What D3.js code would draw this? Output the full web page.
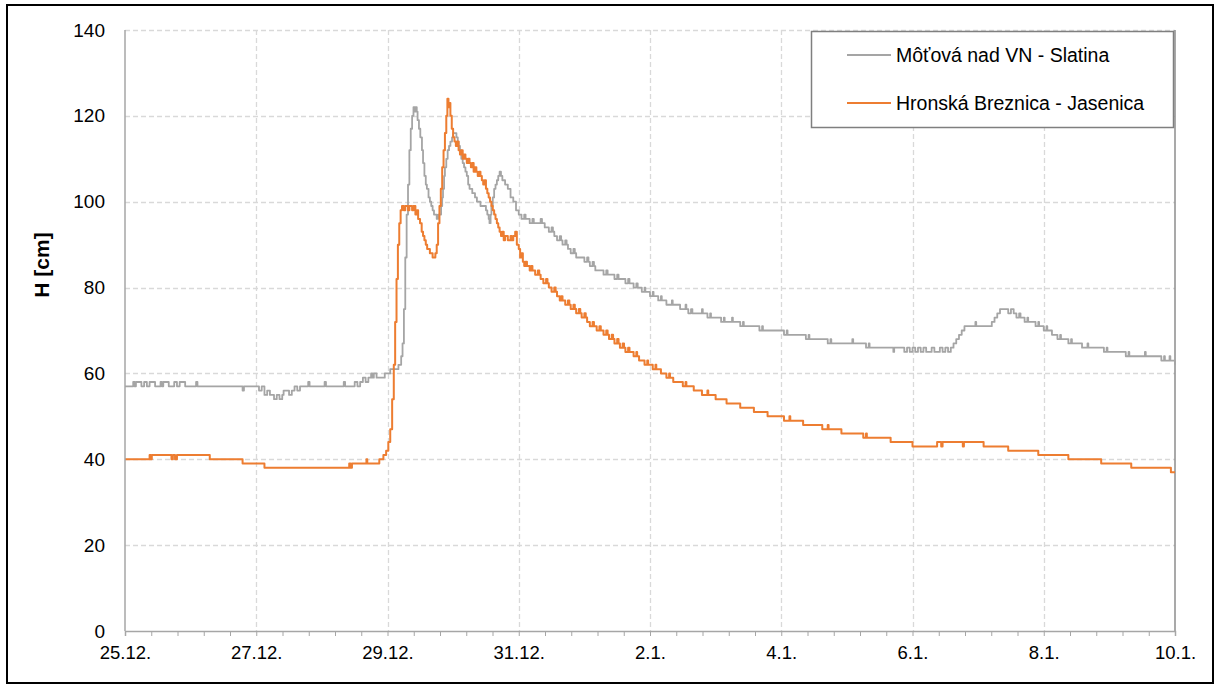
<!DOCTYPE html>
<html><head><meta charset="utf-8">
<script src="https://cdn.jsdelivr.net/npm/d3@7"></script>
<style>html,body{margin:0;padding:0;background:#fff;}svg{display:block;font-family:"Liberation Sans",Arial,sans-serif;}</style>
</head><body>
<svg id="chart" width="1219" height="689"></svg>
<script>
// Hours since 25.12. 00:00
const xTickLabels = ["25.12.","27.12.","29.12.","31.12.","2.1.","4.1.","6.1.","8.1.","10.1."];
const yTicks = [0,20,40,60,80,100,120,140];
const seriesNames = ["Môťová nad VN - Slatina","Hronská Breznica - Jasenica"];
const seriesColors = ["#a5a5a5","#ed7d31"];

const grayData = [[0,57],[3,58],[3.5,57],[4,58],[6,57],[7,58],[8,57],[9,58],[10,58],[11,57],[13,58],[13.5,57],[14,58],[16,57],[18,58],[19,57],[20,58],[22,57],[26,58],[26.5,57],[31,57],[36,57],[41,57],[43,56],[43.5,57],[47,57],[49,56],[50,57],[51,55],[52,56],[53,55],[54.5,54],[55.5,55],[56.5,54],[57.5,55],[58,56],[60,55],[61,56],[62,57],[63,56],[64,57],[66,57],[67,58],[67.5,57],[72,57],[73,58],[73.5,57],[78,57],[80,58],[80.5,57],[84,58],[85,57],[86,58],[87,59],[88,58],[89,59],[90,60],[90.5,59],[91,60],[92,59],[94,59],[95,60],[96,60],[97,61],[99,61],[100,62],[101,64],[101.5,67],[102,75],[102.5,87],[103,97],[103.5,104],[104,112],[104.5,117],[105,120],[105.5,122],[106,121],[106.3,122],[106.7,121],[107,119],[107.5,117],[108,115],[108.6,112],[109,109],[109.5,106],[110,104],[110.4,103],[111,101],[111.5,100],[112,99],[112.5,98],[113,97],[114,96],[114.5,97],[115.2,97],[115.6,99],[116,101],[116.3,103],[116.7,106],[117,108],[117.5,110],[118,112],[118.5,113],[119,114],[119.6,115],[120,116],[120.7,116],[121.2,115],[121.7,114],[122,113],[122.5,112],[123,110],[123.5,109],[124,108],[124.5,107],[125,106],[125.5,104],[126,103],[127,102],[128,101],[128.7,100],[129.5,100],[130,99],[131,99],[132,98],[132.5,97],[133,96],[133.3,95],[133.7,97],[134,99],[134.5,101],[135,103],[135.5,104],[136,105],[136.5,106],[137,107],[137.5,106],[138,105],[139,104],[140,103],[141,101],[142,100],[143,98],[144,97],[145,96],[146,97],[146.5,96],[148,95],[149,96],[149.5,95],[151,95],[152,96],[152.5,95],[153.5,94],[155,93],[156,94],[156.5,93],[157,92],[158,91],[159,92],[159.5,91],[160,90],[161,91],[161.5,90],[162,89],[163,88],[164,89],[164.5,88],[165,87],[167,87],[168,86],[169,87],[169.5,86],[170,85],[171,86],[171.5,85],[172,84],[174,84],[175,83],[176,84],[176.5,83],[178,83],[179,82],[180,83],[180.5,82],[182,82],[183,81],[184,82],[184.5,81],[186,80],[187,81],[187.5,80],[189,79],[190,80],[190.3,79],[192,78],[193,79],[193.3,78],[195,77],[196,78],[196.3,77],[198,76],[200,77],[200.3,76],[203,75],[205,76],[205.3,75],[206,74],[207,75],[207.5,74],[210,74],[211,75],[211.3,74],[213,73],[214,74],[214.3,73],[216,73],[218,72],[219,73],[219.3,72],[221,72],[222,73],[222.3,72],[225,71],[226,72],[226.3,71],[231,71],[232,70],[233,71],[233.3,70],[240,70],[241,69],[242,70],[242.3,69],[248,69],[249,68],[250,69],[250.3,68],[256,68],[257,67],[258,68],[258.3,67],[265,67],[266,68],[266.3,67],[270,67],[271,66],[272,67],[272.3,66],[280,66],[281,65],[281.3,66],[284,66],[285,65],[286,66],[287,65],[288,66],[289,65],[290,66],[291,65],[292,66],[293,65],[295,66],[296,65],[298,66],[299,65],[300,66],[301,65],[302,66],[303,67],[304,68],[305,69],[306,70],[307,71],[310,71],[311,72],[311.3,71],[316,71],[317,72],[318,73],[319,74],[320,75],[322,75],[323,74],[324,75],[325,74],[326,73],[327,74],[327.5,73],[329,72],[330,73],[330.3,72],[333,71],[334,72],[334.3,71],[336,70],[337,71],[337.3,70],[339,69],[341,68],[342,69],[342.3,68],[345,67],[346,68],[346.3,67],[350,66],[352,67],[352.3,66],[357,66],[358,65],[359,66],[359.3,65],[365,65],[366,64],[367,65],[367.3,64],[372,64],[373,65],[373.3,64],[378,64],[379,63],[380,64],[380.3,63],[382,64],[382.3,63],[384,62]];

const orangeData = [[0,40],[9,41],[9.4,40],[9.8,41],[17,40],[17.5,41],[18.3,40],[19,41],[31,40],[43,39],[51,38],[82,39],[82.5,38],[83,39],[88,39],[88.3,40],[88.6,39],[93,40],[94.5,41],[95.5,42],[96.3,44],[97,47],[97.7,54],[98.3,62],[98.8,72],[99.3,82],[99.8,90],[100.3,95],[100.8,98],[101.3,99],[102,98],[102.5,99],[103.5,98],[104,99],[105,98],[105.5,99],[106.2,97],[106.8,98],[107.2,96],[107.9,95],[108.5,93],[109,92],[109.5,91],[110,90],[110.5,89],[111.5,88],[112.5,87],[113.5,88],[114,90],[114.5,95],[115,99],[115.5,103],[116,108],[116.5,112],[117,116],[117.5,120],[117.9,124],[118.3,122],[118.6,123],[119,120],[119.5,117],[120,115],[120.5,114],[121,113],[121.5,114],[122,112],[122.5,111],[123,112],[123.5,110],[124,111],[124.5,110],[125,109],[125.5,110],[126,109],[126.5,108],[127,109],[127.5,107],[128,108],[128.5,107],[129,106],[129.5,107],[130,106],[130.5,105],[131,104],[131.5,105],[132,103],[132.5,102],[133,101],[133.5,100],[134,99],[134.5,98],[135,97],[135.5,96],[136,95],[136.5,94],[137,93],[137.5,92],[138,93],[138.5,91],[139,92],[140,91],[141,92],[141.5,91],[142,92],[142.7,93],[143.3,90],[144,89],[144.5,87],[145,88],[145.5,86],[146,85],[146.5,86],[147,85],[148,84],[148.5,85],[149,84],[150,83],[151,84],[151.5,83],[152,82],[153,81],[154,82],[154.5,81],[155,80],[156,79],[157,80],[157.5,79],[158,78],[159,77],[159.5,78],[160,77],[161,76],[162,77],[162.5,76],[163,75],[164,76],[164.5,75],[165,74],[166,75],[166.5,74],[167,73],[168,74],[168.5,73],[169,72],[170,71],[171,72],[171.5,71],[172.5,70],[173.5,71],[174,70],[175,69],[176,70],[176.5,69],[177,68],[178,69],[178.5,68],[179,67],[180,68],[180.5,67],[181,66],[182,67],[182.5,66],[183,65],[184,66],[184.5,65],[186,64],[187,65],[187.3,64],[188,63],[190,62],[191,63],[191.3,62],[193,61],[194,62],[194.3,61],[196,60],[198,59],[199,60],[199.3,59],[200.5,58],[204,57],[205,58],[205.3,57],[208,56],[211,55],[213,56],[213.3,55],[216,54],[220,53],[225,52],[230,51],[235,50],[241,49],[243,50],[243.3,49],[248,48],[255,47],[257,48],[257.3,47],[262,46],[270,45],[271,46],[271.3,45],[280,44],[288,43],[297,44],[298.5,43],[299,44],[306,44],[306.4,43],[306.8,44],[314,43],[323,42],[334,41],[345,40],[357,39],[368,38],[382.5,37],[384,37]];

const svg = d3.select("#chart");
const m = {left:125, right:1175, top:30, bottom:631};
const FONT = "Liberation Sans, Arial, sans-serif";

// outer border
svg.append("rect").attr("x",7).attr("y",5).attr("width",1206).attr("height",678)
  .attr("fill","#fff").attr("stroke","#000").attr("stroke-width",2);

const x = d3.scaleLinear().domain([0,384]).range([m.left,m.right]);
const y = d3.scaleLinear().domain([0,140]).range([m.bottom,m.top]);
const majorHours = xTickLabels.map((d,i)=>i*48);

// gridlines
const grid = svg.append("g");
grid.selectAll("line.h").data(yTicks.filter(d=>d>0)).join("line")
  .attr("x1",m.left).attr("x2",m.right).attr("y1",d=>Math.round(y(d))+0.5).attr("y2",d=>Math.round(y(d))+0.5)
  .attr("stroke","#d9d9d9").attr("stroke-width",1.3).attr("stroke-dasharray","5,3");
grid.selectAll("line.v").data(majorHours.filter(d=>d>0 && d<384)).join("line")
  .attr("y1",m.top).attr("y2",m.bottom).attr("x1",d=>Math.round(x(d))+0.5).attr("x2",d=>Math.round(x(d))+0.5)
  .attr("stroke","#d9d9d9").attr("stroke-width",1.3).attr("stroke-dasharray","5,3");

// right edge line
svg.append("line").attr("x1",m.right).attr("x2",m.right).attr("y1",m.top).attr("y2",m.bottom)
  .attr("stroke","#8c8c8c").attr("stroke-width",1.5);

// lines
svg.append("clipPath").attr("id","clip").append("rect")
  .attr("x",m.left).attr("y",m.top-5).attr("width",m.right-m.left+2).attr("height",m.bottom-m.top+5);
const line = d3.line().x(d=>x(d[0])).y(d=>y(d[1])).curve(d3.curveStepAfter);
const plot = svg.append("g").attr("clip-path","url(#clip)");
plot.append("path").datum(grayData).attr("d",line).attr("fill","none")
  .attr("stroke",seriesColors[0]).attr("stroke-width",1.8).attr("stroke-linejoin","round");
plot.append("path").datum(orangeData).attr("d",line).attr("fill","none")
  .attr("stroke",seriesColors[1]).attr("stroke-width",2).attr("stroke-linejoin","round");

// axes
const axisColor = "#a6a6a6";
svg.append("line").attr("x1",m.left).attr("x2",m.left).attr("y1",m.top).attr("y2",m.bottom)
  .attr("stroke",axisColor).attr("stroke-width",1.5);
const xAxis = svg.append("g").attr("transform",`translate(0,${m.bottom})`)
  .call(d3.axisBottom(x).tickValues(d3.range(0,384.01,9.6)).tickSize(5).tickFormat(""));
xAxis.select(".domain").attr("stroke",axisColor).attr("stroke-width",1.5);
xAxis.selectAll(".tick line").attr("stroke",axisColor).attr("stroke-width",1);
const xLab = svg.append("g").attr("transform",`translate(0,${m.bottom})`)
  .call(d3.axisBottom(x).tickValues(majorHours).tickSize(0).tickPadding(15).tickFormat((d,i)=>xTickLabels[i]));
xLab.select(".domain").remove();
xLab.selectAll("text").attr("font-size",18.5).attr("fill","#000").attr("font-family",FONT);

const yAx = svg.append("g").attr("transform",`translate(${m.left},0)`)
  .call(d3.axisLeft(y).tickValues(yTicks).tickSize(0).tickPadding(20));
yAx.select(".domain").remove();
yAx.selectAll("text").attr("font-size",19).attr("fill","#000").attr("font-family",FONT);

svg.append("text").attr("transform","translate(49,265) rotate(-90)").attr("text-anchor","middle")
  .attr("font-size",21).attr("font-weight","bold").attr("font-family",FONT).text("H [cm]");

// legend
const lg = svg.append("g");
lg.append("rect").attr("x",811.5).attr("y",31.5).attr("width",362).attr("height",96)
  .attr("fill","#fff").attr("stroke","#7f7f7f").attr("stroke-width",1.5);
seriesNames.forEach((n,i)=>{
  const yy = 55 + i*48;
  lg.append("line").attr("x1",847).attr("x2",891).attr("y1",yy).attr("y2",yy)
    .attr("stroke",seriesColors[i]).attr("stroke-width",2);
  lg.append("text").attr("x",896).attr("y",yy+7).attr("font-size",19.5).attr("fill","#000")
    .attr("font-family",FONT).text(n);
});
</script>
</body></html>
